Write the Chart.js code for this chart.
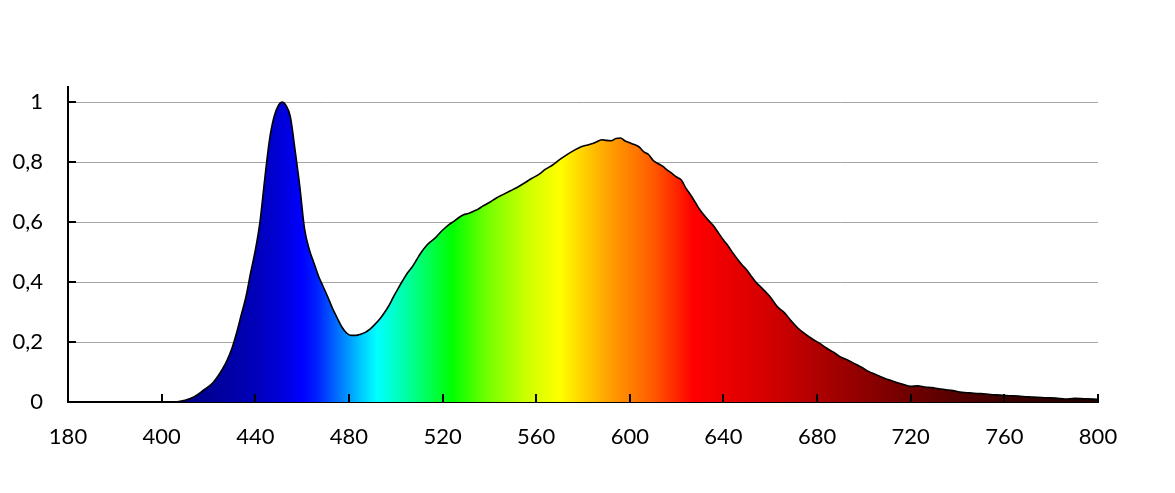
<!DOCTYPE html>
<html>
<head>
<meta charset="utf-8">
<script src="https://cdn.jsdelivr.net/npm/chart.js@4/dist/chart.umd.min.js"></script>
<style>
  html, body { margin: 0; padding: 0; background: #ffffff; }
  #wrap { width: 1175px; height: 493px; }
</style>
</head>
<body>
<div id="wrap"><canvas id="c" width="1175" height="493"></canvas></div>
<script>
// Wavelength (nm) and relative intensity
const wavelengths = [406,410,414,418,422,426,428,430,432,434,436,438,440,442,444,446,448,450,451.5,453,455,457,459,461,463,465,467,469,471,473,475,477,479,481,483,485,487,489,491,493,495,497,499,501,503,505,507,509,511,513,515,517,519,521,523,525,527,529,531,533,535,537,540,543,546,549,552,555,558,561,564,567,570,573,576,579,582,585,588,590,592,594,596,598,600,602,604,606,608,610,612,614,616,618,620,622,624,626,628,630,632,634,636,638,640,642,644,646,648,650,652,654,656,658,660,663,666,669,672,675,678,681,684,687,690,693,696,699,702,705,708,711,714,717,720,723,726,729,732,735,738,741,744,747,750,754,758,762,766,770,774,778,782,786,790,794,798,800];
const intensity = [0,0.006,0.018,0.04,0.065,0.11,0.14,0.178,0.23,0.29,0.35,0.43,0.505,0.60,0.74,0.87,0.95,0.99,1.0,0.99,0.95,0.84,0.72,0.58,0.51,0.465,0.42,0.385,0.35,0.312,0.28,0.25,0.23,0.222,0.222,0.226,0.232,0.243,0.258,0.275,0.296,0.32,0.35,0.378,0.405,0.43,0.45,0.475,0.50,0.52,0.535,0.548,0.565,0.58,0.593,0.603,0.615,0.624,0.628,0.635,0.642,0.652,0.665,0.68,0.692,0.704,0.716,0.73,0.745,0.758,0.776,0.79,0.808,0.824,0.838,0.85,0.857,0.864,0.874,0.872,0.871,0.878,0.88,0.87,0.864,0.858,0.85,0.834,0.825,0.805,0.795,0.786,0.773,0.762,0.75,0.74,0.712,0.69,0.665,0.64,0.62,0.602,0.585,0.562,0.54,0.52,0.497,0.476,0.457,0.44,0.418,0.398,0.383,0.367,0.35,0.318,0.298,0.27,0.245,0.226,0.21,0.196,0.18,0.166,0.15,0.14,0.128,0.116,0.102,0.092,0.082,0.073,0.065,0.058,0.052,0.054,0.05,0.048,0.044,0.041,0.038,0.033,0.031,0.029,0.028,0.025,0.023,0.021,0.02,0.017,0.016,0.014,0.013,0.01,0.012,0.011,0.01,0.009];
const xTickValues = [360,400,440,480,520,560,600,640,680,720,760,800];
const xTickLabels = ['180','400','440','480','520','560','600','640','680','720','760','800'];
const yTickValues = [0,0.2,0.4,0.6,0.8,1];
const yTickLabels = ['0','0,2','0,4','0,6','0,8','1'];

// spectrum colour stops (nm, colour) – styling only
const spectrumStops = [
  [360,'rgb(0,0,120)'],[405,'rgb(0,0,130)'],[420,'rgb(0,0,150)'],[440,'rgb(0,0,185)'],
  [452,'rgb(0,0,220)'],[460,'rgb(0,0,255)'],[466,'rgb(0,30,255)'],[475,'rgb(0,110,255)'],
  [485,'rgb(0,200,255)'],[492,'rgb(0,255,255)'],[505,'rgb(0,255,160)'],[524,'rgb(0,255,0)'],
  [540,'rgb(120,255,0)'],[555,'rgb(200,255,0)'],[570,'rgb(255,255,0)'],[590,'rgb(255,165,0)'],
  [610,'rgb(255,90,0)'],[627,'rgb(255,0,0)'],[660,'rgb(210,0,0)'],[680,'rgb(175,0,0)'],
  [720,'rgb(110,0,0)'],[760,'rgb(60,0,0)'],[800,'rgb(30,0,0)']
];

const points = wavelengths.map((w, i) => ({x: w, y: intensity[i]}));

function spectrumFill(context) {
  const chart = context.chart;
  const area = chart.chartArea;
  if (!area) return 'rgb(0,0,255)';
  const xs = chart.scales.x;
  const x0 = xs.getPixelForValue(360), x1 = xs.getPixelForValue(800);
  const g = chart.ctx.createLinearGradient(x0, 0, x1, 0);
  spectrumStops.forEach(([nm, col]) => g.addColorStop((nm - 360) / 440, col));
  return g;
}

const innerTicks = {
  id: 'innerTicks',
  afterDraw(chart) {
    const ctx = chart.ctx;
    const xs = chart.scales.x, ys = chart.scales.y;
    const left = xs.left, bottom = ys.bottom;
    ctx.save();
    ctx.strokeStyle = '#000';
    ctx.lineWidth = 2;
    ctx.beginPath();
    yTickValues.forEach(v => {
      if (v === 0) return;
      const py = Math.round(ys.getPixelForValue(v));
      ctx.moveTo(left, py); ctx.lineTo(left + 8, py);
    });
    xTickValues.forEach(v => {
      if (v === 360) return;
      const px = Math.round(xs.getPixelForValue(v));
      ctx.moveTo(px, bottom); ctx.lineTo(px, bottom - 8);
    });
    ctx.stroke();
    ctx.restore();
  }
};

new Chart(document.getElementById('c'), {
  type: 'line',
  data: {
    datasets: [{
      data: points,
      borderColor: '#000000',
      borderWidth: 1.6,
      pointRadius: 0,
      cubicInterpolationMode: 'monotone',
      fill: 'origin',
      backgroundColor: spectrumFill
    }]
  },
  options: {
    responsive: false,
    animation: false,
    devicePixelRatio: 1,
    layout: { padding: { top: 87, right: 77, left: 0, bottom: 0 } },
    plugins: { legend: { display: false }, tooltip: { enabled: false } },
    scales: {
      x: {
        type: 'linear', min: 360, max: 800,
        afterBuildTicks: s => { s.ticks = xTickValues.map(v => ({value: v})); },
        afterFit: s => { s.height = 91; },
        ticks: {
          autoSkip: false, maxRotation: 0, padding: 22,
          color: '#000', font: { family: 'Lato', size: 22 },
          callback: v => xTickLabels[xTickValues.indexOf(v)]
        },
        grid: { display: false, drawTicks: false },
        border: { display: true, color: '#000', width: 2 }
      },
      y: {
        type: 'linear', min: 0, max: 1.05,
        afterBuildTicks: s => { s.ticks = yTickValues.map(v => ({value: v})); },
        afterFit: s => { s.width = 68; },
        ticks: {
          padding: 25, color: '#000', font: { family: 'Lato', size: 22 },
          callback: v => yTickLabels[yTickValues.indexOf(v)]
        },
        grid: {
          drawTicks: false, lineWidth: 1,
          color: c => (c.tick && c.tick.value === 0) ? 'rgba(0,0,0,0)' : '#a6a6a6'
        },
        border: { display: true, color: '#000', width: 2 }
      }
    }
  },
  plugins: [innerTicks]
});
</script>
</body>
</html>
